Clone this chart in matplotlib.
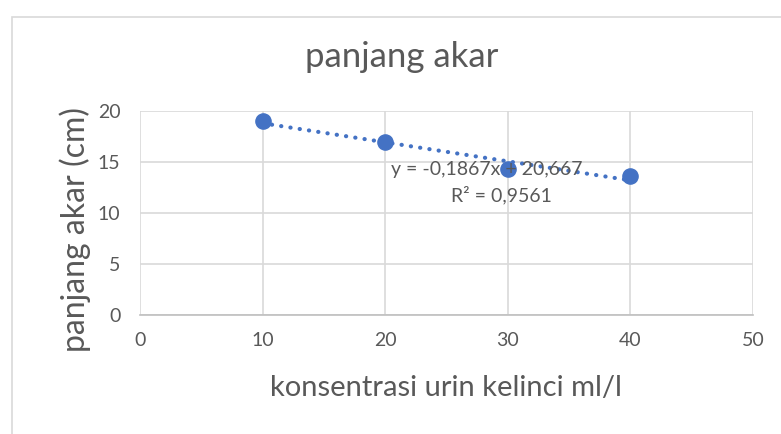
import matplotlib.pyplot as plt
from matplotlib.patches import Rectangle
import numpy as np

plt.rcParams['font.family'] = ['Lato', 'DejaVu Sans']

konsentrasi = [10, 20, 30, 40]
panjang = [19.0, 17.0, 14.335, 13.665]
x_ticks = [0, 10, 20, 30, 40, 50]
y_ticks = [0, 5, 10, 15, 20]

slope = -0.1867
intercept = 20.667
r2 = 0.9561

grey_text = '#595959'
blue = '#4472C4'

fig = plt.figure(figsize=(7.81, 4.34), dpi=100)
# outer chart frame (cropped on the right and bottom)
fig.patches.append(Rectangle((12 / 781, -0.1), 1.2, 1 - 17 / 434 + 0.1,
                             transform=fig.transFigure, fill=False,
                             edgecolor='#D9D9D9', linewidth=1.2))

ax = fig.add_axes([140 / 781, 1 - 315 / 434, (753 - 140) / 781, (315 - 111) / 434])
ax.set_xlim(0, 50)
ax.set_ylim(0, 20)
ax.set_xticks(x_ticks)
ax.set_yticks(y_ticks)
ax.grid(True, color='#D9D9D9', linewidth=1.2)
ax.set_axisbelow(True)
for side in ['top', 'right', 'left']:
    ax.spines[side].set_visible(False)
ax.spines['bottom'].set_color('#BFBFBF')
ax.spines['bottom'].set_linewidth(1.2)
ax.tick_params(length=0, labelsize=14, labelcolor=grey_text, pad=12)
ax.tick_params(axis='y', pad=14)

# linear trendline
xt = np.array([konsentrasi[0], konsentrasi[-1]])
ax.plot(xt, slope * xt + intercept, linestyle=(0, (0.05, 2.2)), color=blue,
        linewidth=3, dash_capstyle='round', zorder=3)
ax.scatter(konsentrasi, panjang, s=120, color=blue, zorder=4, clip_on=False)

fig.text(487 / 781, 1 - 170 / 434, f'y = {slope}x + {intercept}'.replace('.', ','),
         fontsize=14, color=grey_text, ha='center', va='center', zorder=5)
fig.text(501 / 781, 1 - 195 / 434, f'R² = {r2}'.replace('.', ','), fontsize=14,
         color=grey_text, ha='center', va='center', zorder=5)

fig.text(402 / 781, 1 - 57 / 434, 'panjang akar', fontsize=25,
         color=grey_text, ha='center', va='center')
fig.text(446 / 781, 1 - 388 / 434, 'konsentrasi urin kelinci ml/l', fontsize=21,
         color=grey_text, ha='center', va='center')
fig.text(75 / 781, 1 - 230 / 434, 'panjang akar (cm)', fontsize=23,
         color=grey_text, ha='center', va='center', rotation=90)

fig.savefig('out.png', dpi=100)
